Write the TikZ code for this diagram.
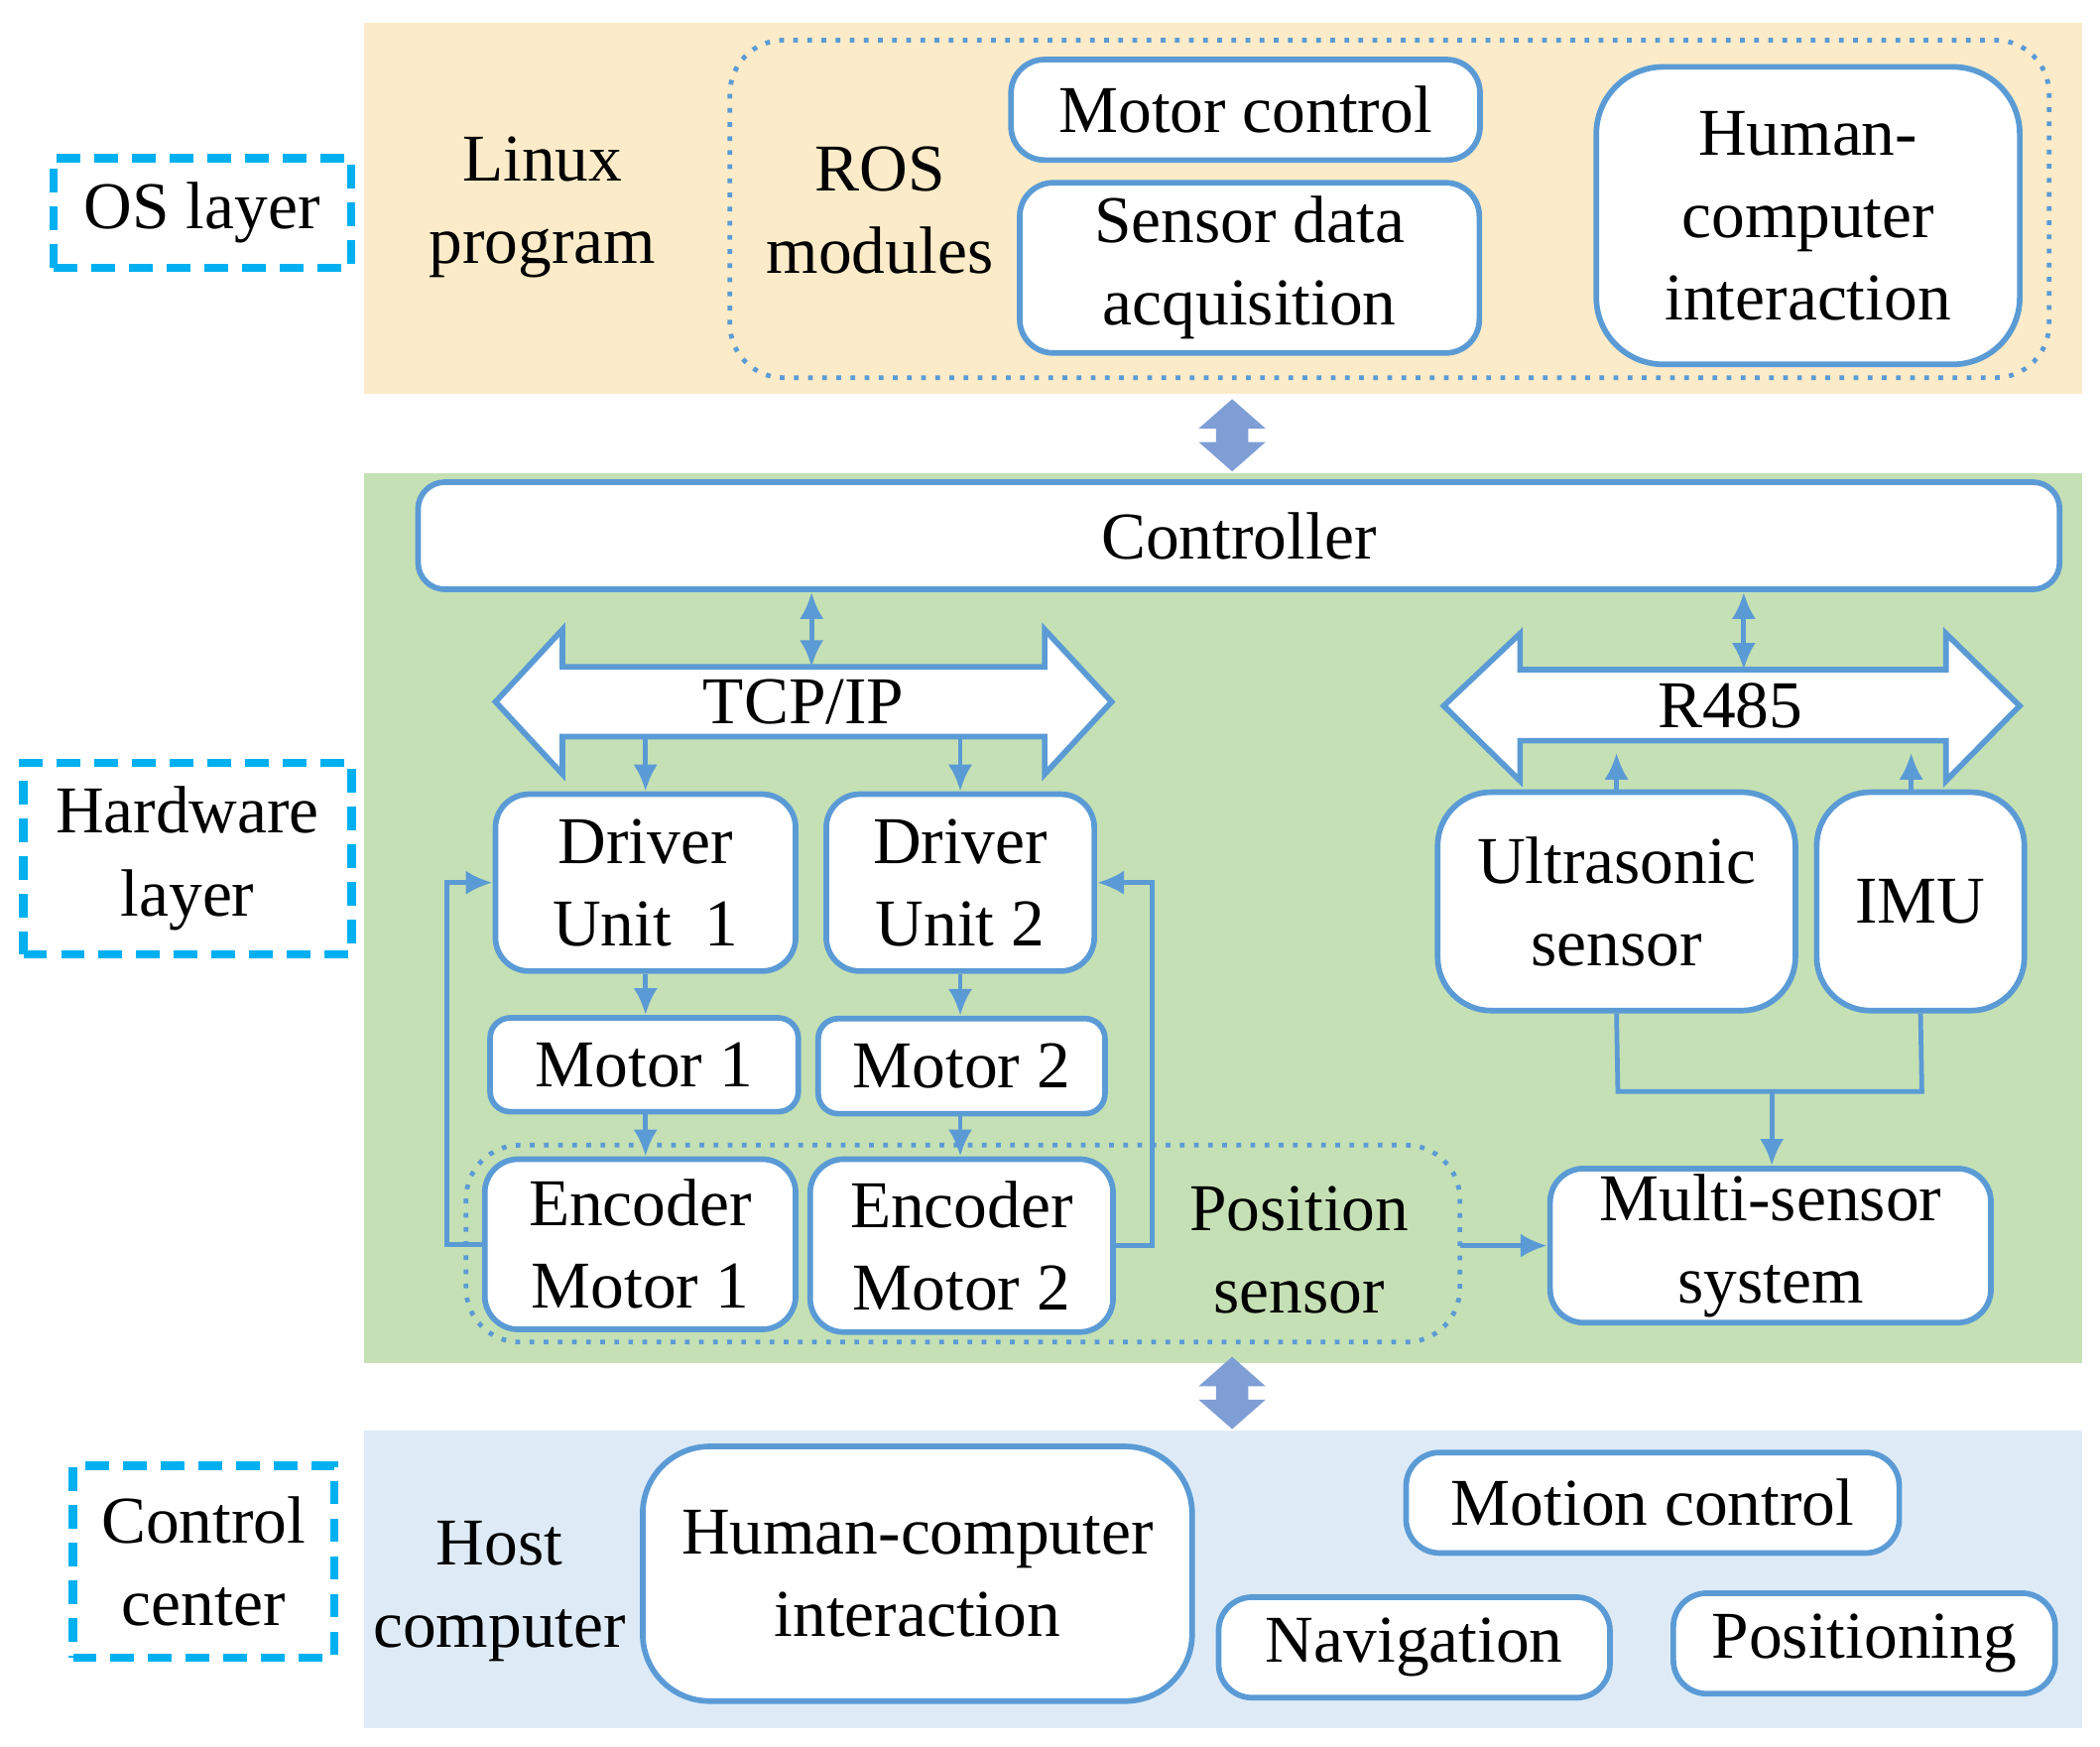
\documentclass[tikz,border=0pt]{standalone}
\usepackage{fontspec}
\setmainfont{Liberation Serif}
\usetikzlibrary{arrows.meta}
\definecolor{ln}{HTML}{5B9BD5}
\definecolor{osb}{HTML}{FCEBC8}
\definecolor{hwb}{HTML}{C5E0B4}
\definecolor{ccb}{HTML}{DEEBF7}
\definecolor{cy}{HTML}{00B0F0}
\definecolor{da}{HTML}{7F9ED6}
\begin{document}
\begin{tikzpicture}[x=0.01cm,y=-0.01cm,
 every node/.style={font=\fontsize{14.2}{17.5}\selectfont,align=center,inner sep=0pt},
 bx/.style={draw=ln,line width=1.2pt,fill=white,rounded corners=2.5mm},
 lab/.style={draw=cy,line width=1.8pt,dash pattern=on 5pt off 3pt},
 dot/.style={draw=ln,line width=1pt,dotted,rounded corners=4mm},
 ar/.style={draw=ln,line width=1pt,-{Latex[length=2mm,width=1.8mm]}},
 ln/.style={draw=ln,line width=1pt}]
\useasboundingbox (0,0) rectangle (1568,1304);
% bands
\fill[osb] (272,17) rectangle (1555,294);
\fill[hwb] (272,353) rectangle (1555,1018);
\fill[ccb] (272,1068) rectangle (1555,1290);
% left labels
\node[lab,minimum width=2.22cm,minimum height=0.82cm] (osl) at (151,159) {OS layer};
\node[lab,minimum width=2.45cm,minimum height=1.43cm] (hwl) at (140,641) {Hardware\\layer};
\node[lab,minimum width=1.95cm,minimum height=1.43cm] (ccl) at (152,1166) {Control\\center};
% OS layer
\node (linux) at (405,155) {Linux\\program};
\node (ros) at (657,157) {ROS\\modules};
\draw[dot] (545,30) rectangle (1530,282);
\node[bx,minimum width=3.5cm,minimum height=0.75cm] (mc) at (930,82) {Motor control};
\node[bx,minimum width=3.43cm,minimum height=1.27cm] (sda) at (933,200) {Sensor data\\acquisition};
\node[bx,minimum width=3.16cm,minimum height=2.22cm,rounded corners=5mm] (hci1) at (1350,161) {Human-\\computer\\interaction};
% inter-layer arrows
\foreach \y/\n in {325/da1,1040/da2}{
 \fill[da] (920,\y-27) -- (945,\y-5) -- (932,\y-5) -- (932,\y+5) -- (945,\y+5) -- (920,\y+27) -- (895,\y+5) -- (908,\y+5) -- (908,\y-5) -- (895,\y-5) -- cycle;
 \coordinate (\n) at (920,\y);}
% hardware
\node[bx,minimum width=12.25cm,minimum height=0.8cm,rounded corners=2mm] (ctrl) at (925,400) {Controller};
\draw[ln,fill=white,line width=1.2pt] (370,524) -- (420,470) -- (420,498) -- (780,498) -- (780,470) -- (830,524) -- (780,578) -- (780,550) -- (420,550) -- (420,578) -- cycle;
\node (tcp) at (600,524) {TCP/IP};
\draw[ln,fill=white,line width=1.2pt] (1078,527) -- (1135,473) -- (1135,500) -- (1453,500) -- (1453,473) -- (1508,527) -- (1453,583) -- (1453,553) -- (1135,553) -- (1135,583) -- cycle;
\node (r485) at (1292,527) {R485};
\coordinate (tcptop) at (606,498); \coordinate (rtop) at (1302,500);
\draw[ln,{Latex[length=2mm,width=1.8mm]}-{Latex[length=2mm,width=1.8mm]}] (ctrl.south -| tcptop) -- (tcptop);
\draw[ln,{Latex[length=2mm,width=1.8mm]}-{Latex[length=2mm,width=1.8mm]}] (ctrl.south -| rtop) -- (rtop);
\node[bx,minimum width=2.24cm,minimum height=1.32cm] (d1) at (482,659) {Driver\\Unit\ \ 1};
\node[bx,minimum width=2.0cm,minimum height=1.32cm] (d2) at (717,659) {Driver\\Unit\ 2};
\node[bx,minimum width=2.3cm,minimum height=0.7cm,rounded corners=1.5mm] (m1) at (481,795) {Motor 1};
\node[bx,minimum width=2.14cm,minimum height=0.71cm,rounded corners=1.5mm] (m2) at (718,796) {Motor 2};
\draw[dot] (348,855) rectangle (1090,1002);
\node[bx,minimum width=2.32cm,minimum height=1.27cm] (e1) at (478,929) {Encoder\\Motor 1};
\node[bx,minimum width=2.26cm,minimum height=1.29cm] (e2) at (718,930) {Encoder\\Motor 2};
\node (ps) at (970,933) {Position\\sensor};
\coordinate (psr) at (1090,930);
\draw[ar] (d1.north |- 0,550) -- (d1.north);
\draw[ar] (d2.north |- 0,550) -- (d2.north);
\draw[ar] (d1.south) -- (m1.north -| d1.south);
\draw[ar] (d2.south) -- (m2.north -| d2.south);
\draw[ar] (m1.south -| d1.south) -- (e1.north -| d1.south);
\draw[ar] (m2.south -| d2.south) -- (e2.north -| d2.south);
\draw[ar] (e1.west) -- ++(-26,0) |- (d1.west);
\draw[ar] (e2.east) -- ++(27,0) |- (d2.east);
\node[bx,minimum width=2.67cm,minimum height=1.63cm,rounded corners=4mm] (us) at (1207,673) {Ultrasonic\\sensor};
\node[bx,minimum width=1.55cm,minimum height=1.63cm,rounded corners=4mm] (imu) at (1434,673) {IMU};
\node[bx,minimum width=3.29cm,minimum height=1.15cm] (ms) at (1322,930) {Multi-sensor\\system};
\draw[ar] (us.north) -- (us.north |- 0,562);
\draw[ar] (imu.north -| 1427,0) -- (1427,562);
\draw[ln] (us.south) -- (1208,815) -- (1435,815) -- (imu.south);
\draw[ar] (1323,815) -- (ms.north -| 1323,0);
\draw[ar] (psr) -- (ms.west);
% control center
\node (host) at (373,1188) {Host\\computer};
\node[bx,minimum width=4.1cm,minimum height=1.9cm,rounded corners=5mm] (hci2) at (685,1175) {Human-computer\\interaction};
\node[bx,minimum width=3.68cm,minimum height=0.75cm] (mot) at (1234,1122) {Motion control};
\node[bx,minimum width=2.92cm,minimum height=0.75cm] (nav) at (1056,1230) {Navigation};
\node[bx,minimum width=2.85cm,minimum height=0.75cm] (pos) at (1392,1227) {Positioning};
\end{tikzpicture}
\end{document}
